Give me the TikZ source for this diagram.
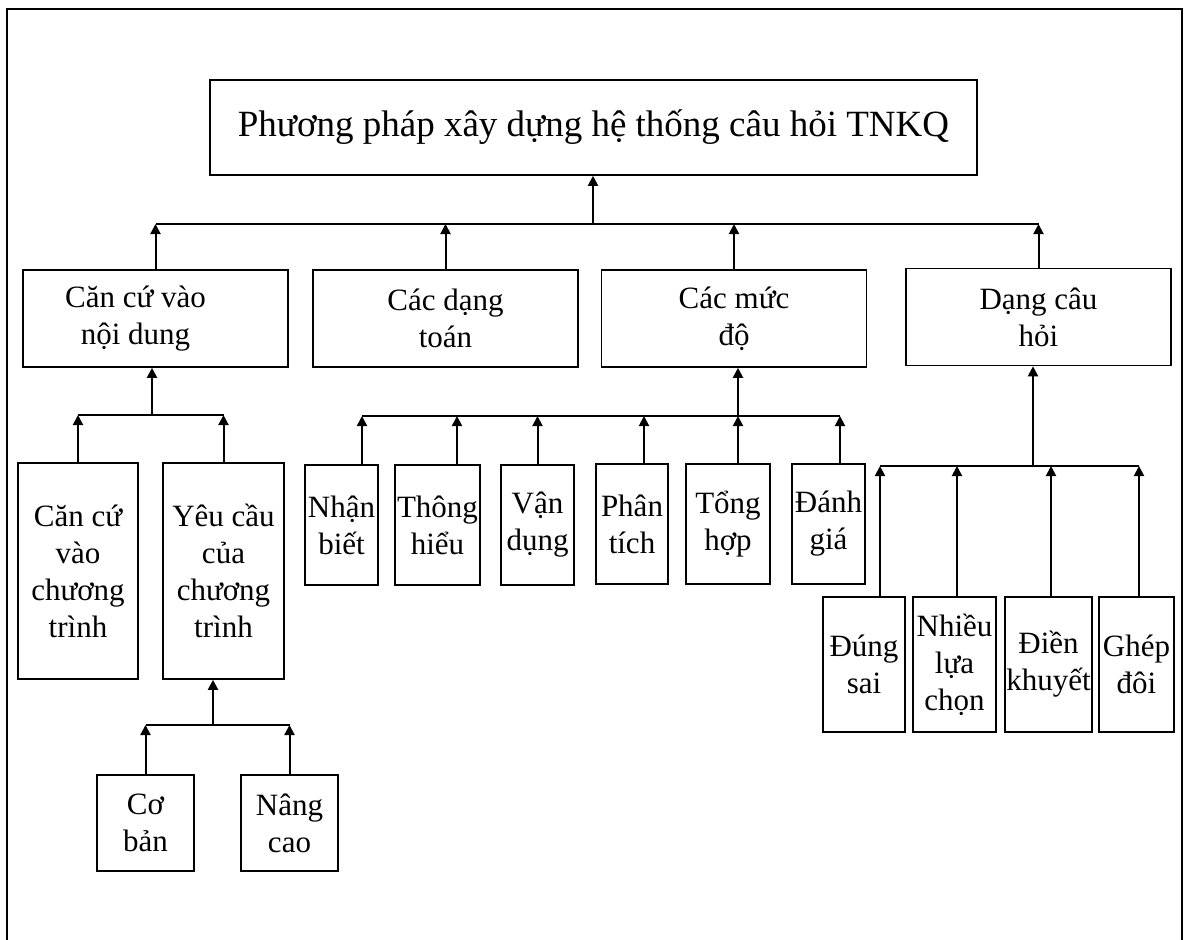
\documentclass[tikz,border=0pt]{standalone}
\usepackage{fontspec}
\setmainfont{Liberation Serif}
\usetikzlibrary{arrows.meta, positioning}

\begin{document}
\begin{tikzpicture}[
    x=1pt, y=-1pt,
    box/.style={rectangle, draw, line width=1.6pt, inner sep=0pt, align=center, font=\fontsize{31}{37}\selectfont},
    lvone/.style={box, minimum width=265pt, minimum height=97pt},
    tall/.style={box, minimum width=121pt, minimum height=216pt},
    small/.style={box, minimum width=97pt, minimum height=96pt},
    level/.style={box, minimum height=120pt},
    kind/.style={box, minimum height=135pt},
    arrow/.style={line width=2pt,-{Triangle[length=10pt,width=10pt]}},
    bus/.style={line width=2pt}
]
    \useasboundingbox (0,0) rectangle (1187,940);
    \draw[line width=2pt] (7,940) -- (7,9) -- (1182,9) -- (1182,940);

    \node[box, minimum width=767pt, minimum height=95pt, font=\fontsize{37}{44}\selectfont] (goc) at (593.5,127.5) {Phương pháp xây dựng hệ thống câu hỏi TNKQ};

    \node[lvone] (noidung) at (155.5,318.5) {Căn cứ vào\hspace*{40pt}\\nội dung\hspace*{40pt}};
    \node[lvone] (dangtoan) at (445.5,318.5) {Các dạng\\toán};
    \node[lvone] (mucdo) at (734,318.5) {Các mức\\độ};
    \node[lvone] (cauhoi) at (1038.5,317) {Dạng câu\\hỏi};

    \node[tall, minimum width=120pt] (chuongtrinh) at (78,571) {Căn cứ\\vào\\chương\\trình};
    \node[tall] (yeucau) at (223.5,571) {Yêu cầu\\của\\chương\\trình};
    \node[small] (coban) at (145.5,823) {Cơ\\bản};
    \node[small] (nangcao) at (289.5,823) {Nâng\\cao};

    \node[level, minimum width=73pt] (nhanbiet) at (341.5,525) {Nhận\\biết};
    \node[level, minimum width=85pt] (thonghieu) at (437.5,525) {Thông\\hiểu};
    \node[level, minimum width=73pt] (vandung) at (537.5,525) {Vận\\dụng};
    \node[level, minimum width=72pt] (phantich) at (632,524) {Phân\\tích};
    \node[level, minimum width=84pt] (tonghop) at (728,524) {Tổng\\hợp};
    \node[level, minimum width=73pt] (danhgia) at (828.5,524) {Đánh\\giá};

    \node[kind, minimum width=82pt] (dungsai) at (864,664.5) {Đúng\\sai};
    \node[kind, minimum width=83pt] (nhieulc) at (954.5,664.5) {Nhiều\\lựa\\chọn};
    \node[kind, minimum width=87pt] (dienkhuyet) at (1048.5,664.5) {Điền\\khuyết};
    \node[kind, minimum width=75pt] (ghepdoi) at (1136.5,664.5) {Ghép\\đôi};

    % Bus lines
    \coordinate (busA) at (593,224);
    \coordinate (busB) at (152,415);
    \coordinate (busC) at (213,725);
    \coordinate (busD) at (738,416);
    \coordinate (busE) at (1033,466);

    % Arrows
    \draw[arrow] (busA) -- (busA |- goc.south);
    \draw[bus] (noidung.north |- busA) -- (cauhoi.north |- busA);
    \draw[arrow] (noidung.north) -- (noidung.north |- busA);
    \draw[arrow] (dangtoan.north) -- (dangtoan.north |- busA);
    \draw[arrow] (mucdo.north) -- (mucdo.north |- busA);
    \draw[arrow] (cauhoi.north) -- (cauhoi.north |- busA);

    \draw[arrow] (busB) -- (busB |- noidung.south);
    \draw[bus] (chuongtrinh.north |- busB) -- (yeucau.north |- busB);
    \draw[arrow] (chuongtrinh.north) -- (chuongtrinh.north |- busB);
    \draw[arrow] (yeucau.north) -- (yeucau.north |- busB);

    \draw[arrow] (busC) -- (busC |- yeucau.south);
    \draw[bus] (coban.north |- busC) -- (nangcao.north |- busC);
    \draw[arrow] (coban.north) -- (coban.north |- busC);
    \draw[arrow] (nangcao.north) -- (nangcao.north |- busC);

    \draw[arrow] (busD) -- (busD |- mucdo.south);
    \draw[bus] ([xshift=20.5pt]nhanbiet.north |- busD) -- ([xshift=11.5pt]danhgia.north |- busD);
    \draw[arrow] ([xshift=20.5pt]nhanbiet.north) -- ([xshift=20.5pt]nhanbiet.north |- busD);
    \draw[arrow] ([xshift=19.5pt]thonghieu.north) -- ([xshift=19.5pt]thonghieu.north |- busD);
    \draw[arrow] (vandung.north) -- (vandung.north |- busD);
    \draw[arrow] ([xshift=12pt]phantich.north) -- ([xshift=12pt]phantich.north |- busD);
    \draw[arrow] ([xshift=10pt]tonghop.north) -- ([xshift=10pt]tonghop.north |- busD);
    \draw[arrow] ([xshift=11.5pt]danhgia.north) -- ([xshift=11.5pt]danhgia.north |- busD);

    \draw[arrow] (busE) -- (busE |- cauhoi.south);
    \draw[bus] ([xshift=16pt]dungsai.north |- busE) -- ([xshift=2.5pt]ghepdoi.north |- busE);
    \draw[arrow] ([xshift=16pt]dungsai.north) -- ([xshift=16pt]dungsai.north |- busE);
    \draw[arrow] ([xshift=2.5pt]nhieulc.north) -- ([xshift=2.5pt]nhieulc.north |- busE);
    \draw[arrow] ([xshift=2.5pt]dienkhuyet.north) -- ([xshift=2.5pt]dienkhuyet.north |- busE);
    \draw[arrow] ([xshift=2.5pt]ghepdoi.north) -- ([xshift=2.5pt]ghepdoi.north |- busE);
\end{tikzpicture}
\end{document}
